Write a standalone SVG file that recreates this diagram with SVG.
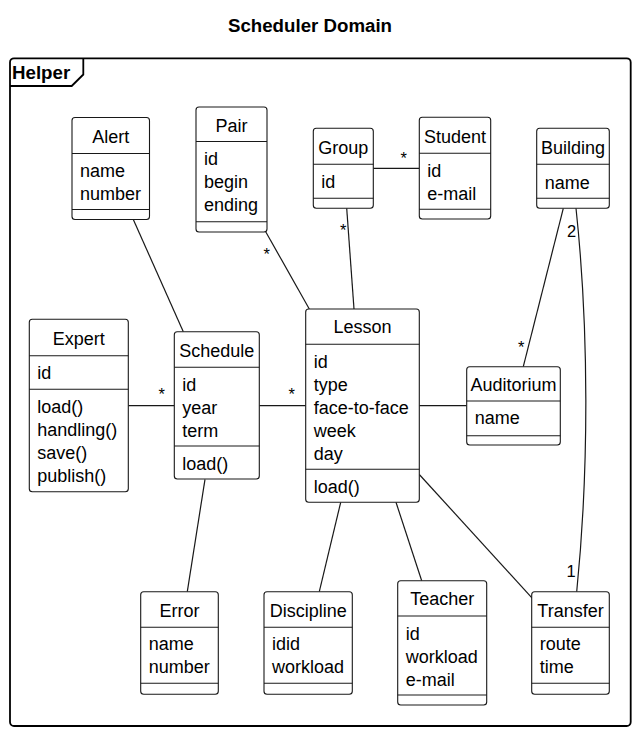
<svg xmlns="http://www.w3.org/2000/svg" width="637" height="732" viewBox="0 0 637 732">
<style>
  text { font-family: "Liberation Sans", Arial, sans-serif; fill: #000; }
  .t { font-size: 18.7px; font-weight: bold; }
  .n { font-size: 18px; text-anchor: middle; }
  .a { font-size: 18px; }
  .m { font-size: 16.5px; }
  .box { fill: #fff; stroke: #181818; stroke-width: 1.1; }
  .sep { stroke: #181818; stroke-width: 1.1; fill: none; }
  .c { stroke: #181818; stroke-width: 1.2; fill: none; }
</style>
<rect width="637" height="732" fill="#fff"/>
<text class="t" x="310" y="32" text-anchor="middle">Scheduler Domain</text>
<g id="frame-Helper">
  <rect x="10" y="58.3" width="620.7" height="667.7" rx="4" ry="4" fill="none" stroke="#000" stroke-width="1.8"/>
  <path d="M10,86 L71.7,86 L83.3,74.5 L83.3,58.3" fill="none" stroke="#000" stroke-width="1.8"/>
  <text class="t" x="12" y="79">Helper</text>
</g>
<g id="connectors">
  <line class="c" x1="133.3" y1="219.5" x2="183.3" y2="331.7"/>
  <line class="c" x1="265.7" y1="231.7" x2="309.3" y2="309"/>
  <text class="m" x="263.5" y="259.5">*</text>
  <line class="c" x1="346.7" y1="208.3" x2="354" y2="309"/>
  <text class="m" x="340" y="236">*</text>
  <line class="c" x1="373.3" y1="168.3" x2="419.3" y2="168.3"/>
  <text class="m" x="400.5" y="163.5">*</text>
  <line class="c" x1="563.3" y1="208.3" x2="523.3" y2="366.7"/>
  <text class="m" x="518" y="353">*</text>
  <path class="c" d="M576,208.3 C589,330 589,470 576.7,591.7"/>
  <text class="m" x="567" y="236.7">2</text>
  <text class="m" x="566.5" y="577.3">1</text>
  <line class="c" x1="128.3" y1="405.7" x2="174.3" y2="405.7"/>
  <text class="m" x="158.5" y="400">*</text>
  <line class="c" x1="259.3" y1="405.7" x2="305.7" y2="405.7"/>
  <text class="m" x="288.5" y="400">*</text>
  <line class="c" x1="419.3" y1="405.7" x2="466.7" y2="405.7"/>
  <line class="c" x1="205" y1="479.3" x2="187.3" y2="591.7"/>
  <line class="c" x1="340.7" y1="502.3" x2="319.3" y2="591.7"/>
  <line class="c" x1="396" y1="502.3" x2="421.7" y2="580.7"/>
  <line class="c" x1="419.3" y1="474.5" x2="533.3" y2="599.3"/>
</g>
<g id="Alert">
  <rect class="box" x="72" y="117.5" width="77.5" height="102" rx="3"/>
  <line class="sep" x1="72" y1="153.5" x2="149.5" y2="153.5"/>
  <line class="sep" x1="72" y1="209.5" x2="149.5" y2="209.5"/>
  <text class="n" x="110.75" y="143">Alert</text>
  <text class="a" x="80" y="176.7">name</text>
  <text class="a" x="80" y="199.7">number</text>
</g>
<g id="Pair">
  <rect class="box" x="196" y="107" width="71" height="125" rx="3"/>
  <line class="sep" x1="196" y1="141.5" x2="267" y2="141.5"/>
  <line class="sep" x1="196" y1="221.7" x2="267" y2="221.7"/>
  <text class="n" x="231.5" y="131.7">Pair</text>
  <text class="a" x="204" y="165.3">id</text>
  <text class="a" x="204" y="188.3">begin</text>
  <text class="a" x="204" y="211.3">ending</text>
</g>
<g id="Group">
  <rect class="box" x="313.3" y="128.3" width="60" height="80" rx="3"/>
  <line class="sep" x1="313.3" y1="164.3" x2="373.3" y2="164.3"/>
  <line class="sep" x1="313.3" y1="198.3" x2="373.3" y2="198.3"/>
  <text class="n" x="343.3" y="154">Group</text>
  <text class="a" x="321.3" y="188.3">id</text>
</g>
<g id="Student">
  <rect class="box" x="419.3" y="117.3" width="71.4" height="101.7" rx="3"/>
  <line class="sep" x1="419.3" y1="153.3" x2="490.7" y2="153.3"/>
  <line class="sep" x1="419.3" y1="209.3" x2="490.7" y2="209.3"/>
  <text class="n" x="455" y="142.7">Student</text>
  <text class="a" x="427.3" y="176.7">id</text>
  <text class="a" x="427.3" y="199.7">e-mail</text>
</g>
<g id="Building">
  <rect class="box" x="536.7" y="128.3" width="72.6" height="80" rx="3"/>
  <line class="sep" x1="536.7" y1="164.3" x2="609.3" y2="164.3"/>
  <line class="sep" x1="536.7" y1="198.3" x2="609.3" y2="198.3"/>
  <text class="n" x="573" y="154">Building</text>
  <text class="a" x="544.7" y="188.5">name</text>
</g>
<g id="Expert">
  <rect class="box" x="29.3" y="319.3" width="99" height="172.4" rx="3"/>
  <line class="sep" x1="29.3" y1="355.7" x2="128.3" y2="355.7"/>
  <line class="sep" x1="29.3" y1="389.3" x2="128.3" y2="389.3"/>
  <text class="n" x="78.8" y="345">Expert</text>
  <text class="a" x="37.3" y="379">id</text>
  <text class="a" x="37.3" y="413.3">load()</text>
  <text class="a" x="37.3" y="436.3">handling()</text>
  <text class="a" x="37.3" y="459.3">save()</text>
  <text class="a" x="37.3" y="482.3">publish()</text>
</g>
<g id="Schedule">
  <rect class="box" x="174.3" y="331.7" width="85" height="147.3" rx="3"/>
  <line class="sep" x1="174.3" y1="367.3" x2="259.3" y2="367.3"/>
  <line class="sep" x1="174.3" y1="446" x2="259.3" y2="446"/>
  <text class="n" x="216.8" y="356.7">Schedule</text>
  <text class="a" x="182.3" y="390.7">id</text>
  <text class="a" x="182.3" y="413.7">year</text>
  <text class="a" x="182.3" y="436.7">term</text>
  <text class="a" x="182.3" y="470">load()</text>
</g>
<g id="Lesson">
  <rect class="box" x="305.7" y="309" width="113.6" height="193.3" rx="3"/>
  <line class="sep" x1="305.7" y1="344.3" x2="419.3" y2="344.3"/>
  <line class="sep" x1="305.7" y1="469.3" x2="419.3" y2="469.3"/>
  <text class="n" x="362.5" y="333.3">Lesson</text>
  <text class="a" x="313.7" y="368.3">id</text>
  <text class="a" x="313.7" y="391.3">type</text>
  <text class="a" x="313.7" y="414.3">face-to-face</text>
  <text class="a" x="313.7" y="437.3">week</text>
  <text class="a" x="313.7" y="460.3">day</text>
  <text class="a" x="313.7" y="492.7">load()</text>
</g>
<g id="Auditorium">
  <rect class="box" x="466.7" y="366.7" width="93.6" height="78.3" rx="3"/>
  <line class="sep" x1="466.7" y1="401" x2="560.3" y2="401"/>
  <line class="sep" x1="466.7" y1="435.7" x2="560.3" y2="435.7"/>
  <text class="n" x="513.5" y="391">Auditorium</text>
  <text class="a" x="474.7" y="424.3">name</text>
</g>
<g id="Error">
  <rect class="box" x="140.7" y="591.7" width="77.6" height="102.6" rx="3"/>
  <line class="sep" x1="140.7" y1="627.3" x2="218.3" y2="627.3"/>
  <line class="sep" x1="140.7" y1="683.3" x2="218.3" y2="683.3"/>
  <text class="n" x="179.5" y="617.3">Error</text>
  <text class="a" x="148.7" y="650">name</text>
  <text class="a" x="148.7" y="673">number</text>
</g>
<g id="Discipline">
  <rect class="box" x="264" y="591.7" width="88.3" height="102.6" rx="3"/>
  <line class="sep" x1="264" y1="627.3" x2="352.3" y2="627.3"/>
  <line class="sep" x1="264" y1="683.3" x2="352.3" y2="683.3"/>
  <text class="n" x="308.2" y="617.3">Discipline</text>
  <text class="a" x="272" y="650">idid</text>
  <text class="a" x="272" y="673">workload</text>
</g>
<g id="Teacher">
  <rect class="box" x="397.7" y="580.7" width="89" height="124.3" rx="3"/>
  <line class="sep" x1="397.7" y1="616" x2="486.7" y2="616"/>
  <line class="sep" x1="397.7" y1="695" x2="486.7" y2="695"/>
  <text class="n" x="442.2" y="605">Teacher</text>
  <text class="a" x="405.7" y="640">id</text>
  <text class="a" x="405.7" y="663">workload</text>
  <text class="a" x="405.7" y="686">e-mail</text>
</g>
<g id="Transfer">
  <rect class="box" x="531.7" y="591.7" width="77.6" height="102.6" rx="3"/>
  <line class="sep" x1="531.7" y1="627.3" x2="609.3" y2="627.3"/>
  <line class="sep" x1="531.7" y1="683.3" x2="609.3" y2="683.3"/>
  <text class="n" x="570.5" y="617.3">Transfer</text>
  <text class="a" x="539.7" y="650">route</text>
  <text class="a" x="539.7" y="673">time</text>
</g>
</svg>
